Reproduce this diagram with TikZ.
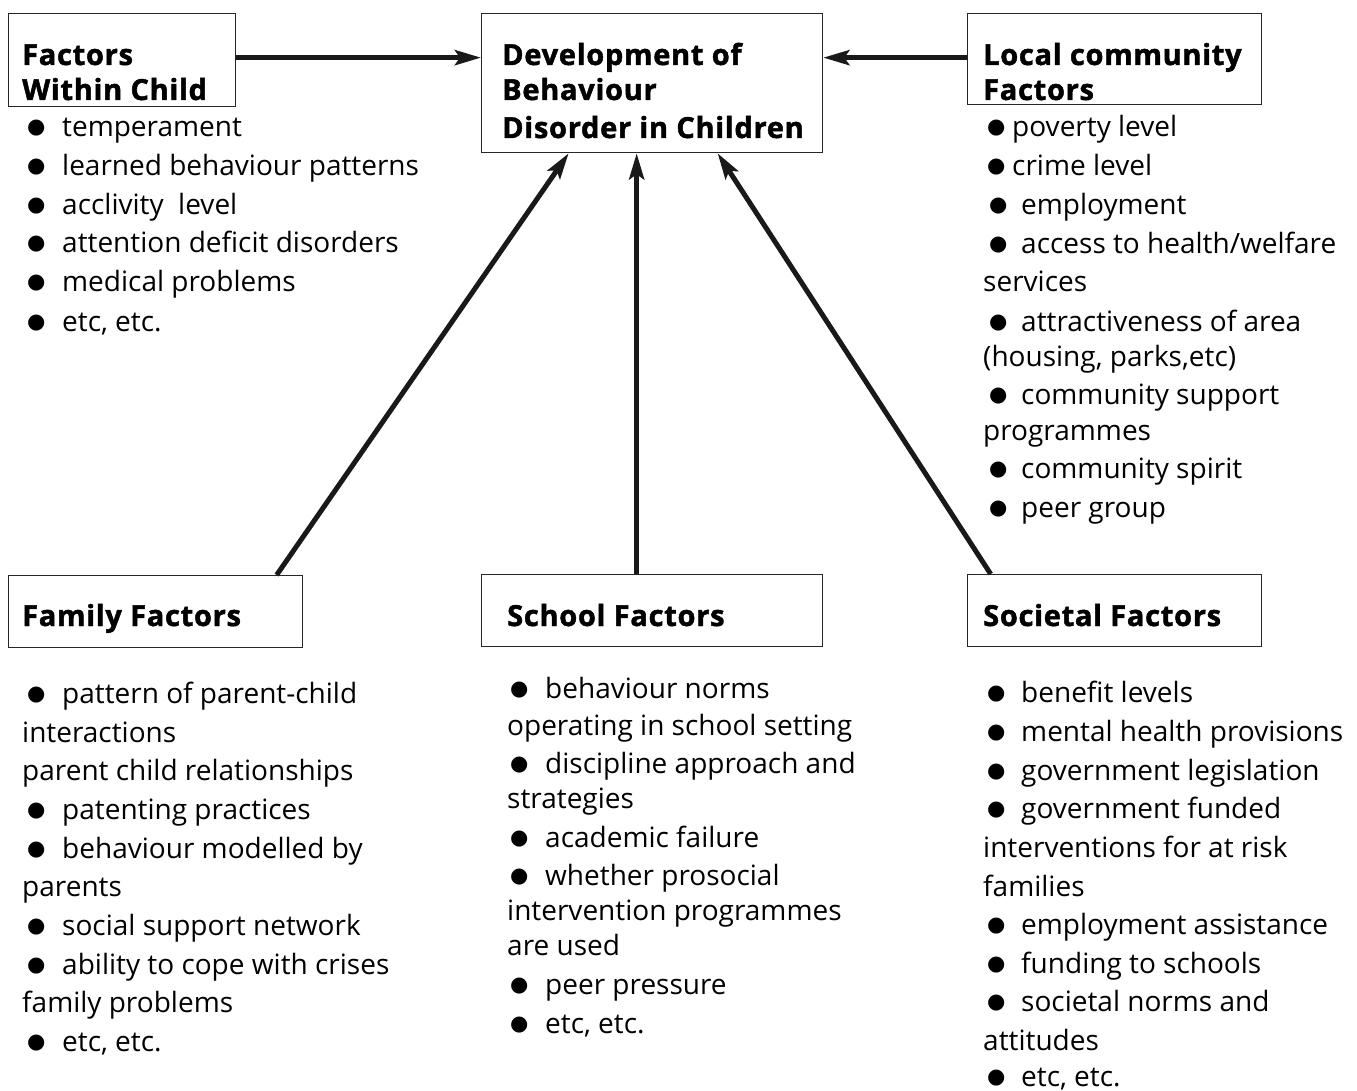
\documentclass[tikz,border=0pt]{standalone}
\usepackage{fontspec}
\setmainfont{Open Sans}
\newfontfamily\headfont{Open Sans}[BoldFeatures={FakeBold=1.6,LetterSpace=2.5}]
\newfontfamily\dejavu{DejaVu Sans}
\usetikzlibrary{arrows.meta}

% bullet glyph and bullet boxes (offset, total width before the text)
\newcommand\bulletglyph{{\dejavu\fontsize{21}{21}\selectfont\raisebox{3pt}{●}}}
\newcommand\bul[2]{\makebox[#2][l]{\hspace{#1}\bulletglyph}}
\newcommand\bchild{\bul{5pt}{40pt}}
\newcommand\blocn{\bul{4pt}{29pt}}
\newcommand\bloc{\bul{6pt}{38pt}}
\newcommand\bsch{\bul{3pt}{38pt}}
\newcommand\bsoc{\bul{4pt}{38pt}}

\begin{document}
\begin{tikzpicture}[x=1pt,y=-1pt,
  box/.style={draw=black!85, line width=1.3pt, inner sep=0pt, anchor=north west},
  head/.style={anchor=base west, inner sep=0pt, font=\headfont\bfseries\fontsize{29}{34}\selectfont},
  item/.style={anchor=base west, inner sep=0pt, font=\fontsize{28}{32}\selectfont},
  arr/.style={line width=5pt, draw=black!90, -{Stealth[length=26pt,width=15pt,inset=5pt]}}]
\useasboundingbox (0,0) rectangle (1357,1091);

% boxes
\node[box, minimum width=227pt, minimum height=93pt] (child) at (8,13) {};
\node[box, minimum width=341pt, minimum height=139pt] (dev) at (481,13) {};
\node[box, minimum width=294pt, minimum height=91pt] (local) at (967,13) {};
\node[box, minimum width=294pt, minimum height=72pt] (fam) at (8,575) {};
\node[box, minimum width=341pt, minimum height=72pt] (school) at (481,574) {};
\node[box, minimum width=294pt, minimum height=72pt] (soc) at (967,574) {};

% box titles
\foreach \y/\t [count=\i] in {65/Factors, 100/Within Child}
  \node[head, name=childT\i] at (22,\y) {\t};
\foreach \y/\t [count=\i] in {65/Development of, 100/Behaviour, 138/Disorder in Children}
  \node[head, name=devT\i] at (502,\y) {\t};
\foreach \y/\t [count=\i] in {65/Local community, 100/Factors}
  \node[head, name=localT\i] at (983,\y) {\t};
\node[head] (famT) at (22,626) {Family Factors};
\node[head] (schoolT) at (507,626) {School Factors};
\node[head] (socT) at (983,626) {Societal Factors};

% lists
\foreach \y/\t [count=\i] in {137/\bchild temperament, 176/\bchild learned behaviour patterns,
  215/\bchild acclivity\ \ level, 253/\bchild attention deficit disorders,
  292/\bchild medical problems, {331/\bchild etc, etc.}}
  \node[item, name=childL\i] at (22,\y) {\t};

\foreach \y/\t [count=\i] in {137/\blocn poverty level, 176/\blocn crime level,
  215/\bloc employment, 254/{\bloc access to health/welfare}, 292/services,
  331/\bloc attractiveness of area, {366/(housing, parks,etc)},
  404/\bloc community support, 440/programmes, 478/\bloc community spirit,
  517/\bloc peer group}
  \node[item, name=localL\i] at (983,\y) {\t};

\foreach \y/\t [count=\i] in {703/\bchild pattern of parent-child, 742/interactions,
  780/parent child relationships, 819/\bchild patenting practices,
  858/\bchild behaviour modelled by, 896/parents, 935/\bchild social support network,
  974/\bchild ability to cope with crises, 1012/family problems, {1051/\bchild etc, etc.}}
  \node[item, name=famL\i] at (22,\y) {\t};

\foreach \y/\t [count=\i] in {698/\bsch behaviour norms, 735/operating in school setting,
  773/\bsch discipline approach and, 808/strategies, 847/\bsch academic failure,
  885/\bsch whether prosocial, 920/intervention programmes, 955/are used,
  994/\bsch peer pressure, {1033/\bsch etc, etc.}}
  \node[item, name=schoolL\i] at (507,\y) {\t};

\foreach \y/\t [count=\i] in {702/\bsoc benefit levels, 741/\bsoc mental health provisions,
  780/\bsoc government legislation, 818/\bsoc government funded,
  857/interventions for at risk, 896/families, 934/\bsoc employment assistance,
  973/\bsoc funding to schools, 1011/\bsoc societal norms and, 1050/attitudes,
  {1086/\bsoc etc, etc.}}
  \node[item, name=socL\i] at (983,\y) {\t};

% connectors
\draw[arr] ([yshift=2.5pt]child.east) -- ([yshift=2.5pt]child.east -| dev.west);
\draw[arr] ([yshift=1.5pt]local.west) -- ([yshift=1.5pt]local.west -| dev.east);
\draw[arr] ([xshift=121pt]fam.north) -- ([xshift=-83.5pt]dev.south);
\draw[arr] ([xshift=-15.5pt]school.north) -- ([xshift=-15.5pt]dev.south);
\draw[arr] ([xshift=-124pt]soc.north) -- ([xshift=65.5pt]dev.south);
\end{tikzpicture}
\end{document}
